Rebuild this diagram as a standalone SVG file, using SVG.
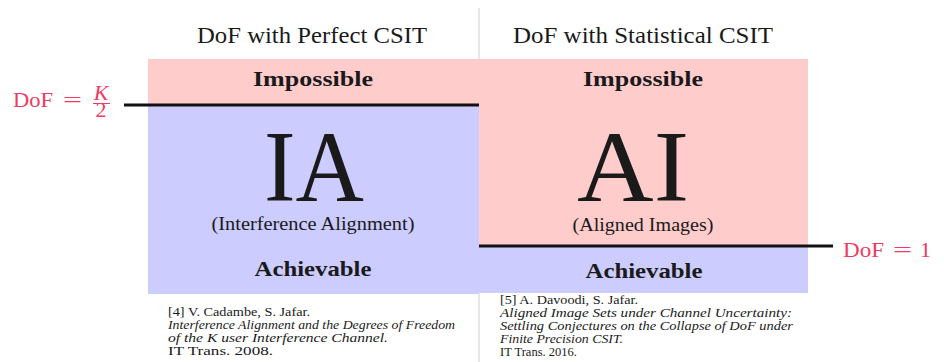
<svg xmlns="http://www.w3.org/2000/svg" width="944" height="362" viewBox="0 0 944 362">
<style>
text{font-family:"Liberation Serif","DejaVu Serif",serif;fill:#1a1a1a}
.title{font-size:23px;text-anchor:middle}
.bold{font-size:21px;font-weight:bold;text-anchor:middle}
.big{font-size:102px;text-anchor:middle}
.sub{font-size:18px;text-anchor:middle}
.red{fill:#f03a62;font-size:22px}
.ref{font-size:12px}
.it{font-style:italic}
.pink{fill:#ffcccc}
.blue{fill:#ccccff}
.bar{stroke:#111;stroke-width:3}
</style>
<g id="divider"><line x1="479" y1="8" x2="479" y2="362" stroke="#d0d0d0" stroke-width="1"/></g>
<g id="left-panel">
<text class="title" x="312" y="43" textLength="230" lengthAdjust="spacingAndGlyphs">DoF with Perfect CSIT</text>
<rect class="pink" x="148" y="59" width="331" height="46"/>
<rect class="blue" x="148" y="105" width="331" height="189"/>
<text class="bold" x="313" y="86" textLength="120" lengthAdjust="spacingAndGlyphs">Impossible</text>
<text class="big" x="314" y="201" textLength="100" lengthAdjust="spacingAndGlyphs">IA</text>
<text class="sub" x="313" y="230" textLength="203" lengthAdjust="spacingAndGlyphs">(Interference Alignment)</text>
<text class="bold" x="313" y="276" textLength="117" lengthAdjust="spacingAndGlyphs">Achievable</text>
</g>
<g id="right-panel">
<text class="title" x="643" y="43" textLength="260" lengthAdjust="spacingAndGlyphs">DoF with Statistical CSIT</text>
<rect class="pink" x="479" y="59" width="329" height="188"/>
<rect class="blue" x="479" y="247" width="329" height="46"/>
<text class="bold" x="643" y="86" textLength="120" lengthAdjust="spacingAndGlyphs">Impossible</text>
<text class="big" x="633" y="201" textLength="112" lengthAdjust="spacingAndGlyphs">AI</text>
<text class="sub" x="643" y="231" textLength="141" lengthAdjust="spacingAndGlyphs">(Aligned Images)</text>
<text class="bold" x="644" y="278" textLength="117" lengthAdjust="spacingAndGlyphs">Achievable</text>
</g>
<g id="connectors">
<line class="bar" x1="124" y1="105" x2="479" y2="105"/>
<line class="bar" x1="479" y1="246" x2="833" y2="246"/>
</g>
<g id="label-left">
<text class="red" x="13" y="107" textLength="40" lengthAdjust="spacingAndGlyphs">DoF</text>
<text class="red" x="63" y="107" textLength="19" lengthAdjust="spacingAndGlyphs">=</text>
<text class="red it" x="101" y="100" font-size="13" text-anchor="middle">K</text>
<line x1="93" y1="103.5" x2="110" y2="103.5" stroke="#f03a62" stroke-width="1"/>
<text class="red" x="101" y="117" font-size="13" text-anchor="middle">2</text>
</g>
<g id="label-right">
<text class="red" x="843" y="257" textLength="41" lengthAdjust="spacingAndGlyphs">DoF</text>
<text class="red" x="893" y="257" textLength="19" lengthAdjust="spacingAndGlyphs">=</text>
<text class="red" x="920" y="257">1</text>
</g>
<g id="ref-left">
<text class="ref" x="168" y="316" textLength="142" lengthAdjust="spacingAndGlyphs">[4] V. Cadambe, S. Jafar.</text>
<text class="ref it" x="168" y="329" textLength="287" lengthAdjust="spacingAndGlyphs">Interference Alignment and the Degrees of Freedom</text>
<text class="ref it" x="168" y="342" textLength="220" lengthAdjust="spacingAndGlyphs">of the K user Interference Channel.</text>
<text class="ref" x="168" y="355" textLength="105" lengthAdjust="spacingAndGlyphs">IT Trans. 2008.</text>
</g>
<g id="ref-right">
<text class="ref" x="500" y="304" textLength="138" lengthAdjust="spacingAndGlyphs">[5] A. Davoodi, S. Jafar.</text>
<text class="ref it" x="500" y="317" textLength="292" lengthAdjust="spacingAndGlyphs">Aligned Image Sets under Channel Uncertainty:</text>
<text class="ref it" x="500" y="330" textLength="293" lengthAdjust="spacingAndGlyphs">Settling Conjectures on the Collapse of DoF under</text>
<text class="ref it" x="500" y="343" textLength="123" lengthAdjust="spacingAndGlyphs">Finite Precision CSIT.</text>
<text class="ref" x="500" y="356" textLength="77" lengthAdjust="spacingAndGlyphs">IT Trans. 2016.</text>
</g>
</svg>
